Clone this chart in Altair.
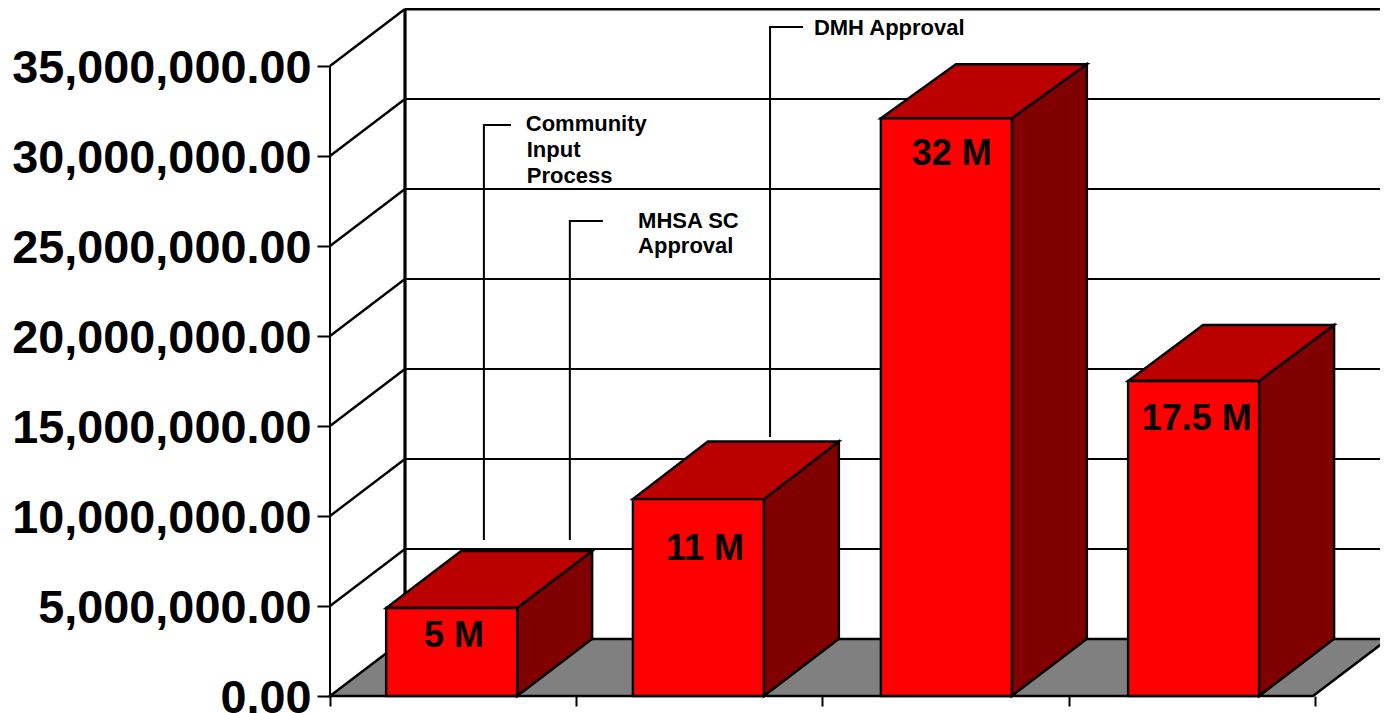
import altair as alt
import pandas as pd

# Values
bar_centers = [0.494, 1.496, 2.503, 3.507]
bar_values = [4890000, 10940000, 32100000, 17500000]
bar_depths = [3167000, 3200000, 3000000, 3111000]
bar_labels = ["5 M", "11 M", "32 M", "17.5 M"]
label_x = [0.5036, 1.523, 2.525, 3.52]
label_y = [3330000, 8150000, 30120000, 15380000]
y_ticks = [0, 5000000, 10000000, 15000000, 20000000, 25000000, 30000000, 35000000]
x_ticks = [0, 1, 2, 3, 4]

callout_x = [[0.625, 0.625, 0.735], [0.974, 0.974, 1.108], [1.787, 1.787, 1.921]]
callout_y = [[8670000, 31720000, 31720000], [8670000, 26390000, 26390000], [14390000, 37170000, 37170000]]
note_text = ["Community", "Input", "Process", "MHSA SC", "Approval", "DMH Approval"]
note_x = [0.795, 0.799, 0.799, 1.251, 1.251, 1.965]
note_y = [31780000, 30330000, 28890000, 26390000, 25000000, 37110000]

BAR_W = 0.532
DX = 0.3046
DY = 3167000
X_MAX = 1058 / 246.25      # where the floor and back wall end
X_VIEW = 1050 / 246.25     # what fits on the page
Y_MAX = 688 / 18 * 1000000
FONT = "Liberation Sans"

xs = alt.Scale(domain=[0, X_VIEW], nice=False, zero=False)
ys = alt.Scale(domain=[0, Y_MAX], nice=False, zero=False)
x_axis = alt.Axis(values=x_ticks, labels=False, domain=False, grid=False, title=None,
                  tickSize=10, tickWidth=2, tickColor="black")
y_axis = alt.Axis(values=y_ticks, format=",.2f", domain=False, grid=False, title=None,
                  tickSize=13, tickWidth=2, tickColor="black", labelPadding=6, labelOffset=2,
                  labelFont=FONT, labelFontWeight="bold", labelFontSize=46.8, labelLimit=400,
                  labelColor="black", labelOverlap=False)
X = lambda f="x": alt.X(f"{f}:Q", scale=xs, axis=x_axis, stack=None)
Y = lambda f="y": alt.Y(f"{f}:Q", scale=ys, axis=y_axis, stack=None)

# Floor
floor = alt.Chart(pd.DataFrame({
    "y": [0, DY], "x": [0, DX], "x2": [X_MAX - DX, X_MAX]
})).mark_area(orient="horizontal", color="#808080", stroke="black", strokeWidth=2.5).encode(
    y=Y(), x=X(), x2="x2:Q")

# Walls
grid_vals = y_ticks[1:]
back = alt.Chart(pd.DataFrame({
    "y": [v + DY for v in grid_vals], "x": [DX] * 7, "x2": [X_MAX] * 7,
    "w": [2.2] * 6 + [3.2]
})).mark_rule(color="black").encode(y=Y(), x=X(), x2="x2:Q", strokeWidth=alt.StrokeWidth("w:Q", scale=None))
slant_rows = []
for v in grid_vals:
    slant_rows += [{"v": v, "x": 0, "y": v, "o": 0}, {"v": v, "x": DX, "y": v + DY, "o": 1}]
slant = alt.Chart(pd.DataFrame(slant_rows)).mark_line(color="black", strokeWidth=2.4).encode(
    x=X(), y=Y(), detail="v:N", order="o:Q")
wall_v = alt.Chart(pd.DataFrame({"x": [DX], "y": [DY], "y2": [35000000 + DY]})).mark_rule(
    color="black", strokeWidth=3.2).encode(x=X(), y=Y(), y2="y2:Q")
axis_v = alt.Chart(pd.DataFrame({"x": [0], "y": [0], "y2": [35000000]})).mark_rule(
    color="black", strokeWidth=2).encode(x=X(), y=Y(), y2="y2:Q")

# Bars
bars = []
for c, v, d in zip(bar_centers, bar_values, bar_depths):
    x0, x1 = c - BAR_W / 2, c + BAR_W / 2
    side = alt.Chart(pd.DataFrame({
        "x": [x1, x1 + DX], "y": [v, v + d], "y2": [0, DY]
    })).mark_area(color="#800000", stroke="black", strokeWidth=2.4).encode(x=X(), y=Y(), y2="y2:Q")
    top = alt.Chart(pd.DataFrame({
        "y": [v, v + d], "x": [x0, x0 + DX], "x2": [x1, x1 + DX]
    })).mark_area(orient="horizontal", color="#BB0000", stroke="black", strokeWidth=2.4).encode(
        y=Y(), x=X(), x2="x2:Q")
    front = alt.Chart(pd.DataFrame({"x": [x0], "x2": [x1], "y": [0], "y2": [v]})).mark_rect(
        color="#FF0000", stroke="black", strokeWidth=2.4).encode(x=X(), x2="x2:Q", y=Y(), y2="y2:Q")
    bars += [side, top, front]

labels = alt.Chart(pd.DataFrame({"x": label_x, "y": label_y, "t": bar_labels})).mark_text(
    font=FONT, fontWeight="bold", fontSize=36, color="black", align="center", baseline="middle"
).encode(x=X(), y=Y(), text="t:N")

# Callouts
rows = []
for i, (cx, cy) in enumerate(zip(callout_x, callout_y)):
    for j, (a, b) in enumerate(zip(cx, cy)):
        rows.append({"k": i, "o": j, "x": a, "y": b})
callouts = alt.Chart(pd.DataFrame(rows)).mark_line(color="black", strokeWidth=2).encode(
    x=X(), y=Y(), detail="k:N", order="o:Q")
notes = alt.Chart(pd.DataFrame({"x": note_x, "y": note_y, "t": note_text})).mark_text(
    font=FONT, fontWeight="bold", fontSize=22, color="black", align="left", baseline="middle"
).encode(x=X(), y=Y(), text="t:N")

chart = alt.layer(floor, back, slant, wall_v, axis_v, *bars, labels, callouts, notes).properties(
    width=1050, height=688,
    padding={"left": 322, "top": 0, "right": 0, "bottom": 18},
    autosize=alt.AutoSizeParams(type="none"),
    background="white",
).configure_view(stroke=None)

chart.save("out.html", embed_options={"renderer": "svg", "actions": False})
